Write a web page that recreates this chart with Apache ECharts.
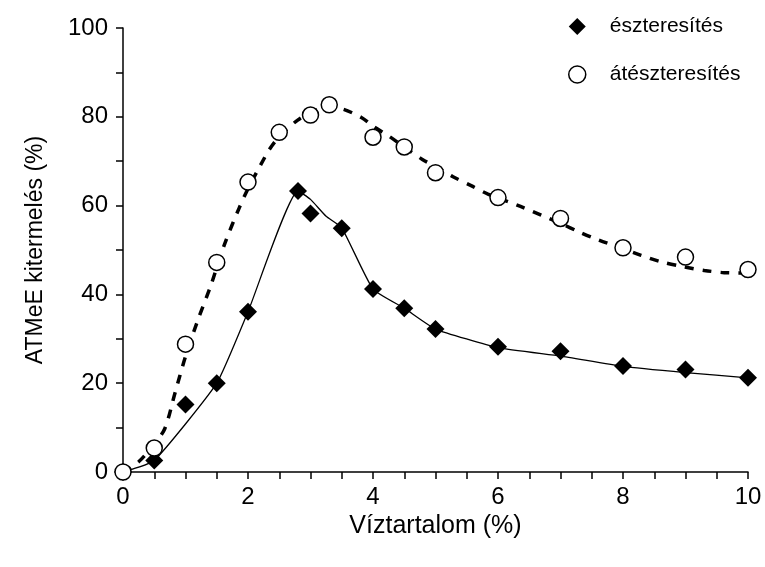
<!DOCTYPE html>
<html>
<head>
<meta charset="utf-8">
<script src="https://cdn.jsdelivr.net/npm/echarts@6/dist/echarts.min.js"></script>
<style>
html,body{margin:0;padding:0;background:#fff;}
#chart{width:765px;height:567px;}
</style>
</head>
<body>
<div id="chart"></div>
<script>
// Measured points: észteresítés (diamonds)
const esztX = [0, 0.5, 1, 1.5, 2, 2.8, 3, 3.5, 4, 4.5, 5, 6, 7, 8, 9, 10];
const esztY = [0, 2.6, 15.2, 20.0, 36.1, 63.3, 58.2, 54.9, 41.2, 36.9, 32.2, 28.2, 27.2, 23.9, 23.1, 21.2];
// Measured points: átészteresítés (circles)
const ateszX = [0, 0.5, 1, 1.5, 2, 2.5, 3, 3.3, 4, 4.5, 5, 6, 7, 8, 9, 10];
const ateszY = [0, 5.4, 28.8, 47.2, 65.3, 76.5, 80.4, 82.7, 75.4, 73.2, 67.4, 61.8, 57.1, 50.5, 48.4, 45.6];
// Solid trend line
const esztLineX = [0, 0.5, 1.5, 2, 2.8, 3.0, 3.25, 3.5, 4, 4.5, 5, 6, 7, 8, 9, 10];
const esztLineY = [0, 2.6, 20.0, 36.1, 63.3, 61.4, 57.6, 55.0, 41.2, 36.9, 32.2, 28.0, 26.1, 23.8, 22.4, 21.2];
// Dashed trend line
const ateszLineX = [0, 0.25, 0.5, 0.67, 0.83, 1.0, 1.2, 1.4, 1.63, 1.86, 2.0, 2.2, 2.35, 2.5, 2.79, 3.1, 3.3, 3.52, 3.82, 4.0, 4.27, 4.5, 4.79, 5.0, 5.28, 5.57, 5.84, 6.36, 7.0, 7.31, 7.6, 8.0, 8.29, 8.59, 8.98, 9.3, 9.62, 10];
const ateszLineY = [0, 2.3, 6.3, 9.8, 17.7, 26.0, 34.3, 41.8, 51.5, 59.5, 63.8, 69.1, 72.8, 75.5, 79.2, 81.6, 82.0, 81.7, 79.8, 77.9, 75.5, 73.2, 70.4, 68.8, 66.5, 64.5, 62.6, 59.8, 56.0, 54.0, 52.3, 50.3, 48.8, 47.4, 46.2, 45.4, 44.9, 44.8];
// Axis settings
const xTickLabels = [0, 2, 4, 6, 8, 10];
const yTickLabels = [0, 20, 40, 60, 80, 100];
const xTitle = 'Víztartalom (%)';
const yTitle = 'ATMeE kitermelés (%)';
const names = ['észteresítés', 'átészteresítés'];

const pairs = (xs, ys) => xs.map((x, i) => [x, ys[i]]);
const FONT = "'Liberation Sans', Arial, sans-serif";

const chart = echarts.init(document.getElementById('chart'), null, {renderer: 'canvas'});
chart.setOption({
  backgroundColor: '#ffffff',
  animation: false,
  grid: {left: 123, right: 17, top: 28, bottom: 95, containLabel: false},
  legend: {
    orient: 'vertical',
    left: 563,
    top: 11,
    itemWidth: 17,
    itemHeight: 17,
    itemGap: 27,
    textStyle: {fontFamily: FONT, fontSize: 21, color: '#000', padding: [0, 0, 0, 19]},
    data: [
      {name: names[0], icon: 'diamond', itemStyle: {color: '#000', borderWidth: 0}},
      {name: names[1], icon: 'circle', itemStyle: {color: '#fff', borderColor: '#000', borderWidth: 1.5}}
    ]
  },
  xAxis: {
    type: 'value', min: 0, max: 10, interval: 2,
    name: xTitle, nameLocation: 'middle', nameGap: 40,
    nameTextStyle: {fontFamily: FONT, fontSize: 25, color: '#000'},
    axisLine: {lineStyle: {color: '#000', width: 1.5}},
    axisTick: {show: true, inside: false, length: 7, lineStyle: {color: '#000', width: 1.5}},
    minorTick: {show: true, splitNumber: 4, length: 7, lineStyle: {color: '#000', width: 1.5}},
    splitLine: {show: false},
    axisLabel: {fontFamily: FONT, fontSize: 24, color: '#000', margin: 13,
      formatter: v => xTickLabels.includes(v) ? String(v) : ''}
  },
  yAxis: {
    type: 'value', min: 0, max: 100, interval: 20,
    name: yTitle, nameLocation: 'middle', nameGap: 76,
    nameTextStyle: {fontFamily: FONT, fontSize: 23, color: '#000'},
    axisLine: {lineStyle: {color: '#000', width: 1.5}},
    axisTick: {show: true, inside: false, length: 7, lineStyle: {color: '#000', width: 1.5}},
    minorTick: {show: true, splitNumber: 2, length: 7, lineStyle: {color: '#000', width: 1.5}},
    splitLine: {show: false},
    axisLabel: {fontFamily: FONT, fontSize: 24, color: '#000', margin: 15,
      formatter: v => yTickLabels.includes(v) ? String(v) : ''}
  },
  series: [
    {
      name: 'eszt-line', type: 'line', data: pairs(esztLineX, esztLineY),
      showSymbol: false, symbol: 'none', smooth: 0.15, z: 2,
      lineStyle: {color: '#000', width: 1.3}, silent: true
    },
    {
      name: 'atesz-line', type: 'line', data: pairs(ateszLineX, ateszLineY),
      showSymbol: false, symbol: 'none', smooth: 0.3, z: 2,
      lineStyle: {color: '#000', width: 3.5, type: [9, 9]}, silent: true
    },
    {
      name: names[0], type: 'scatter', data: pairs(esztX, esztY),
      symbol: 'diamond', symbolSize: 18, z: 5,
      itemStyle: {color: '#000', opacity: 1}
    },
    {
      name: names[1], type: 'scatter', data: pairs(ateszX, ateszY),
      symbol: 'circle', symbolSize: 16, z: 6,
      itemStyle: {color: '#fff', borderColor: '#000', borderWidth: 1.5, opacity: 1}
    }
  ]
});
</script>
</body>
</html>
